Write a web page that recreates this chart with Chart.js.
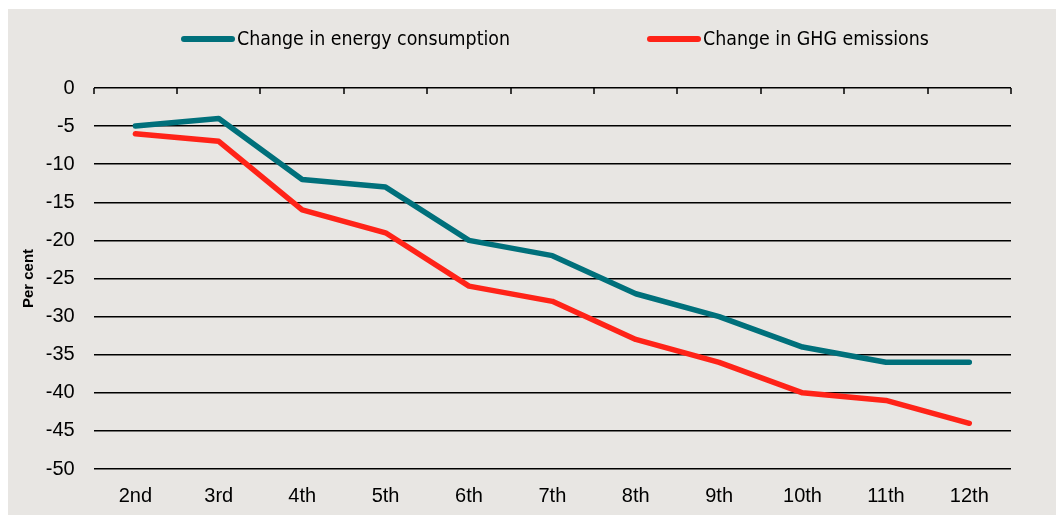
<!DOCTYPE html>
<html>
<head>
<meta charset="utf-8">
<script src="https://cdn.jsdelivr.net/npm/chart.js@4"></script>
<style>
  html, body { margin: 0; padding: 0; background: #fff; }
  #wrap { position: absolute; left: 8px; top: 9px; width: 1048px; height: 506px; background: #e8e6e3; }
</style>
</head>
<body>
<div id="wrap"><canvas id="chart"></canvas></div>
<script>
// budget periods
const labels = ['2nd', '3rd', '4th', '5th', '6th', '7th', '8th', '9th', '10th', '11th', '12th']
const energy = [-5, -4, -12, -13, -20, -22, -27, -30, -34, -36, -36]
const ghg = [-6, -7, -16, -19, -26, -28, -33, -36, -40, -41, -44]

const teal = '#00707b'
const red = '#ff2318'
const tickFont = { family: "'Liberation Sans', Arial, sans-serif", size: 20 }

// legend drawn by hand: short thick line, text right next to it
const lineLegend = {
  id: 'lineLegend',
  afterDraw (chart) {
    const ctx = chart.ctx
    const starts = [173, 639]
    const y = 30
    ctx.save()
    ctx.font = "19.4px 'Liberation Sans Narrow', 'DejaVu Sans Condensed', sans-serif"
    ctx.textBaseline = 'middle'
    chart.data.datasets.forEach((ds, i) => {
      const x = starts[i]
      ctx.strokeStyle = ds.borderColor
      ctx.lineWidth = 6
      ctx.lineCap = 'round'
      ctx.beginPath()
      ctx.moveTo(x + 3, y)
      ctx.lineTo(x + 51, y)
      ctx.stroke()
      ctx.fillStyle = '#000'
      ctx.fillText(ds.label, x + 56, y + 1)
    })
    ctx.restore()
  }
}

// small tick marks hanging below the zero line, at category boundaries
const zeroTicks = {
  id: 'zeroTicks',
  beforeDatasetsDraw (chart) {
    const ctx = chart.ctx
    const xs = chart.scales.x
    const y0 = chart.scales.y.getPixelForValue(0)
    ctx.save()
    ctx.strokeStyle = '#000'
    ctx.lineWidth = 1.5
    ctx.beginPath()
    for (let i = 0; i <= labels.length; i++) {
      const x = Math.round(xs.getPixelForValue(i - 0.5))
      ctx.moveTo(x, y0)
      ctx.lineTo(x, y0 + 6)
    }
    ctx.stroke()
    ctx.restore()
  }
}

new Chart(document.getElementById('chart'), {
  type: 'line',
  data: {
    labels: labels,
    datasets: [
      { label: 'Change in energy consumption', data: energy, borderColor: teal, backgroundColor: teal },
      { label: 'Change in GHG emissions', data: ghg, borderColor: red, backgroundColor: red }
    ]
  },
  options: {
    responsive: true,
    maintainAspectRatio: false,
    animation: false,
    layout: { padding: { left: 8, right: 45, top: 79, bottom: -8 } },
    elements: {
      line: { borderWidth: 5.5, tension: 0, borderCapStyle: 'round', borderJoinStyle: 'round' },
      point: { radius: 0 }
    },
    plugins: {
      tooltip: { enabled: false },
      legend: { display: false }
    },
    scales: {
      x: {
        offset: true,
        grid: { display: false, drawTicks: false },
        border: { display: false },
        ticks: { color: '#000', padding: 15, font: tickFont }
      },
      y: {
        min: -50,
        max: 0,
        ticks: { stepSize: 5, color: '#000', padding: 19, font: tickFont },
        grid: { color: '#000', lineWidth: 1.5, drawTicks: false },
        border: { display: false },
        title: { display: true, text: 'Per cent', color: '#000', padding: { top: 4, bottom: -11.2 }, font: { family: "'Liberation Sans', Arial, sans-serif", size: 15, weight: 'bold' } }
      }
    }
  },
  plugins: [lineLegend, zeroTicks]
})
</script>
</body>
</html>
